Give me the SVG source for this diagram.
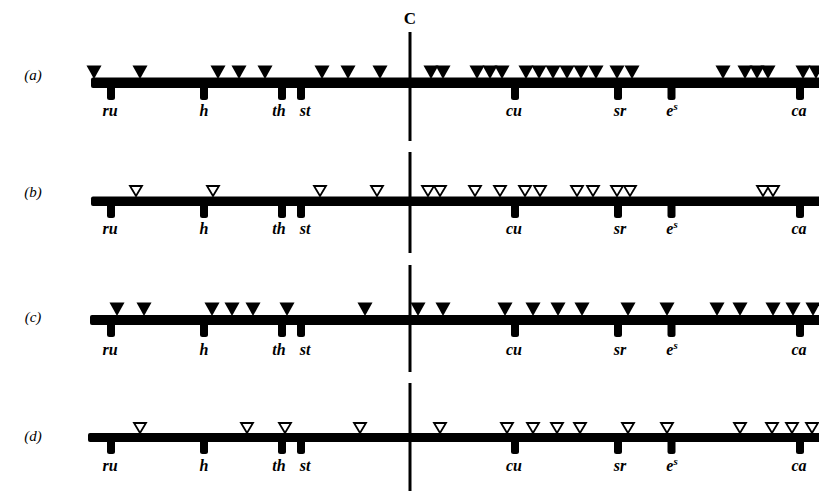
<svg xmlns="http://www.w3.org/2000/svg" xmlns:xlink="http://www.w3.org/1999/xlink" width="819" height="491" viewBox="0 0 819 491">
  <style>
    .bar { fill: #000; }
    .lbl { font-family: "Liberation Serif", "DejaVu Serif", serif; font-style: italic; font-weight: bold; font-size: 16px; fill: #000; text-anchor: middle; }
    .row { font-family: "Liberation Serif", "DejaVu Serif", serif; font-style: italic; font-size: 15px; fill: #000; text-anchor: middle; }
    .cen { font-family: "Liberation Serif", "DejaVu Serif", serif; font-weight: bold; font-size: 17px; fill: #000; text-anchor: middle; }
    .axis { stroke: #000; stroke-width: 3; }
  </style>
  <defs>
    <!-- filled site marker, apex at origin -->
    <path id="tf" d="M-7.5,-12.5 L7.5,-12.5 L0,1 Z" fill="#000"/>
    <!-- open site marker, apex at origin -->
    <path id="to" d="M-6,-10 L6,-10 L0,0 Z" fill="#fff" stroke="#000" stroke-width="1.8" stroke-linejoin="miter"/>
    <!-- gene tick hanging below the bar -->
    <path id="tick" d="M-4,-1 V9.5 Q-4,12 -1.5,12 H1.5 Q4,12 4,9.5 V-1 Z" fill="#000"/>
    <!-- gene ticks, origin at bar bottom -->
    <g id="genes">
      <use xlink:href="#tick" x="111"/>
      <use xlink:href="#tick" x="204"/>
      <use xlink:href="#tick" x="282"/>
      <use xlink:href="#tick" x="301"/>
      <use xlink:href="#tick" x="515"/>
      <use xlink:href="#tick" x="618"/>
      <use xlink:href="#tick" x="671.5"/>
      <use xlink:href="#tick" x="800"/>
    </g>
  </defs>

  <!-- centromere axis -->
  <g id="centromere">
    <text class="cen" x="410" y="24">C</text>
    <line class="axis" x1="410" y1="32" x2="410" y2="141"/>
    <line class="axis" x1="410" y1="152" x2="410" y2="253"/>
    <line class="axis" x1="410" y1="265" x2="410" y2="372"/>
    <line class="axis" x1="410" y1="383" x2="410" y2="491"/>
  </g>

  <!-- map (a) -->
  <g id="map-a">
    <text class="row" x="33" y="80">(a)</text>
    <rect class="bar" x="91" y="77.5" width="740" height="10.5" rx="2"/>
    <use xlink:href="#genes" y="88"/>
    <g id="labels-a">
      <text class="lbl" x="110" y="116">ru</text>
      <text class="lbl" x="204" y="116">h</text>
      <text class="lbl" x="279" y="116">th</text>
      <text class="lbl" x="305" y="116">st</text>
      <text class="lbl" x="514" y="116">cu</text>
      <text class="lbl" x="620" y="116">sr</text>
      <text class="lbl" x="672" y="116">e<tspan font-size="11" dy="-6">s</tspan></text>
      <text class="lbl" x="799" y="116">ca</text>
    </g>
    <g id="sites-a" transform="translate(0,78)">
      <use xlink:href="#tf" x="94"/>
      <use xlink:href="#tf" x="140"/>
      <use xlink:href="#tf" x="218"/>
      <use xlink:href="#tf" x="239"/>
      <use xlink:href="#tf" x="265"/>
      <use xlink:href="#tf" x="322"/>
      <use xlink:href="#tf" x="348"/>
      <use xlink:href="#tf" x="380"/>
      <use xlink:href="#tf" x="431"/>
      <use xlink:href="#tf" x="443"/>
      <use xlink:href="#tf" x="477"/>
      <use xlink:href="#tf" x="490"/>
      <use xlink:href="#tf" x="502"/>
      <use xlink:href="#tf" x="526"/>
      <use xlink:href="#tf" x="539"/>
      <use xlink:href="#tf" x="553"/>
      <use xlink:href="#tf" x="567"/>
      <use xlink:href="#tf" x="581"/>
      <use xlink:href="#tf" x="596"/>
      <use xlink:href="#tf" x="617"/>
      <use xlink:href="#tf" x="632"/>
      <use xlink:href="#tf" x="723"/>
      <use xlink:href="#tf" x="745"/>
      <use xlink:href="#tf" x="757"/>
      <use xlink:href="#tf" x="768"/>
      <use xlink:href="#tf" x="803"/>
      <use xlink:href="#tf" x="816"/>
    </g>
  </g>

  <!-- map (b) -->
  <g id="map-b">
    <text class="row" x="33" y="197">(b)</text>
    <rect class="bar" x="91" y="196.5" width="740" height="9.5" rx="2"/>
    <use xlink:href="#genes" y="206"/>
    <g id="labels-b">
      <text class="lbl" x="110" y="234">ru</text>
      <text class="lbl" x="204" y="234">h</text>
      <text class="lbl" x="279" y="234">th</text>
      <text class="lbl" x="305" y="234">st</text>
      <text class="lbl" x="514" y="234">cu</text>
      <text class="lbl" x="620" y="234">sr</text>
      <text class="lbl" x="672" y="234">e<tspan font-size="11" dy="-6">s</tspan></text>
      <text class="lbl" x="799" y="234">ca</text>
    </g>
    <g id="sites-b" transform="translate(0,196)">
      <use xlink:href="#to" x="136"/>
      <use xlink:href="#to" x="213"/>
      <use xlink:href="#to" x="320"/>
      <use xlink:href="#to" x="377"/>
      <use xlink:href="#to" x="428"/>
      <use xlink:href="#to" x="440"/>
      <use xlink:href="#to" x="475"/>
      <use xlink:href="#to" x="500"/>
      <use xlink:href="#to" x="525"/>
      <use xlink:href="#to" x="540"/>
      <use xlink:href="#to" x="577"/>
      <use xlink:href="#to" x="593"/>
      <use xlink:href="#to" x="617"/>
      <use xlink:href="#to" x="630"/>
      <use xlink:href="#to" x="763"/>
      <use xlink:href="#to" x="773"/>
    </g>
  </g>

  <!-- map (c) -->
  <g id="map-c">
    <text class="row" x="33" y="322">(c)</text>
    <rect class="bar" x="90" y="315" width="740" height="10" rx="2"/>
    <use xlink:href="#genes" y="325"/>
    <g id="labels-c">
      <text class="lbl" x="110" y="355">ru</text>
      <text class="lbl" x="204" y="355">h</text>
      <text class="lbl" x="279" y="355">th</text>
      <text class="lbl" x="305" y="355">st</text>
      <text class="lbl" x="514" y="355">cu</text>
      <text class="lbl" x="620" y="355">sr</text>
      <text class="lbl" x="672" y="355">e<tspan font-size="11" dy="-6">s</tspan></text>
      <text class="lbl" x="799" y="355">ca</text>
    </g>
    <g id="sites-c" transform="translate(0,315)">
      <use xlink:href="#tf" x="117"/>
      <use xlink:href="#tf" x="144"/>
      <use xlink:href="#tf" x="212"/>
      <use xlink:href="#tf" x="232"/>
      <use xlink:href="#tf" x="253"/>
      <use xlink:href="#tf" x="287"/>
      <use xlink:href="#tf" x="365"/>
      <use xlink:href="#tf" x="418"/>
      <use xlink:href="#tf" x="443"/>
      <use xlink:href="#tf" x="505"/>
      <use xlink:href="#tf" x="533"/>
      <use xlink:href="#tf" x="558"/>
      <use xlink:href="#tf" x="582"/>
      <use xlink:href="#tf" x="628"/>
      <use xlink:href="#tf" x="667"/>
      <use xlink:href="#tf" x="717"/>
      <use xlink:href="#tf" x="740"/>
      <use xlink:href="#tf" x="773"/>
      <use xlink:href="#tf" x="793"/>
      <use xlink:href="#tf" x="813"/>
    </g>
  </g>

  <!-- map (d) -->
  <g id="map-d">
    <text class="row" x="33" y="441">(d)</text>
    <rect class="bar" x="88" y="433" width="740" height="9" rx="2"/>
    <use xlink:href="#genes" y="442"/>
    <g id="labels-d">
      <text class="lbl" x="110" y="471">ru</text>
      <text class="lbl" x="204" y="471">h</text>
      <text class="lbl" x="279" y="471">th</text>
      <text class="lbl" x="305" y="471">st</text>
      <text class="lbl" x="514" y="471">cu</text>
      <text class="lbl" x="620" y="471">sr</text>
      <text class="lbl" x="672" y="471">e<tspan font-size="11" dy="-6">s</tspan></text>
      <text class="lbl" x="799" y="471">ca</text>
    </g>
    <g id="sites-d" transform="translate(0,433)">
      <use xlink:href="#to" x="140"/>
      <use xlink:href="#to" x="247"/>
      <use xlink:href="#to" x="285"/>
      <use xlink:href="#to" x="360"/>
      <use xlink:href="#to" x="440"/>
      <use xlink:href="#to" x="507"/>
      <use xlink:href="#to" x="533"/>
      <use xlink:href="#to" x="557"/>
      <use xlink:href="#to" x="580"/>
      <use xlink:href="#to" x="628"/>
      <use xlink:href="#to" x="667"/>
      <use xlink:href="#to" x="740"/>
      <use xlink:href="#to" x="772"/>
      <use xlink:href="#to" x="792"/>
      <use xlink:href="#to" x="812"/>
    </g>
  </g>
</svg>
